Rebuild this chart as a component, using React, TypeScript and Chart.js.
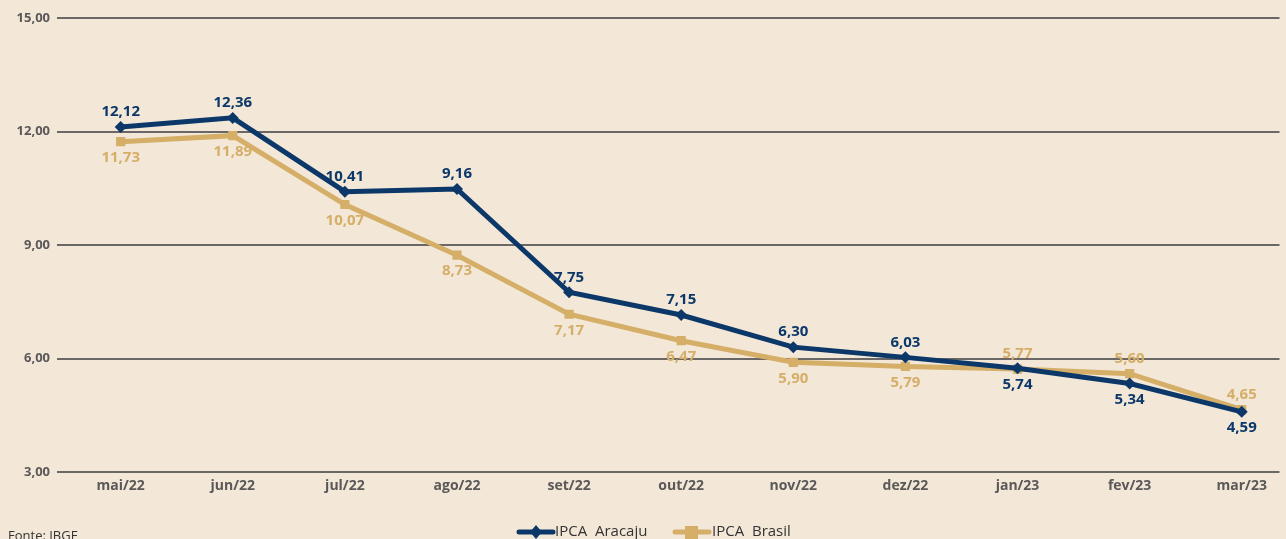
import React, { useEffect, useRef } from "react";
import { Chart, registerables } from "chart.js";

Chart.register(...registerables);

const categories = ["mai/22", "jun/22", "jul/22", "ago/22", "set/22", "out/22", "nov/22", "dez/22", "jan/23", "fev/23", "mar/23"];
// plotted positions
const aracajuValues = [12.12, 12.36, 10.41, 10.48, 7.75, 7.15, 6.3, 6.03, 5.74, 5.34, 4.59];
const brasilValues = [11.73, 11.89, 10.07, 8.73, 7.17, 6.47, 5.9, 5.79, 5.72, 5.6, 4.65];
// printed data labels
const aracajuLabels = [12.12, 12.36, 10.41, 9.16, 7.75, 7.15, 6.3, 6.03, 5.74, 5.34, 4.59];
const brasilLabels = [11.73, 11.89, 10.07, 8.73, 7.17, 6.47, 5.9, 5.79, 5.77, 5.6, 4.65];
const yTicks = [3, 6, 9, 12, 15];

const BG = "#F3E7D8";
const NAVY = "#0B3868";
const GOLD = "#D5AE68";
const GRID = "#6A6767";
const TEXT = "#5A5858";
const FONT = "'Open Sans', 'Noto Sans', sans-serif";

const fmt = (v: number) => v.toFixed(2).replace(".", ",");

export default function App() {
  const ref = useRef<HTMLCanvasElement | null>(null);
  useEffect(() => {
    document.body.style.margin = "0";
    document.body.style.background = BG;
    const canvas = ref.current!;
    const bgPlugin = {
      id: "bg",
      beforeDraw(chart: any) {
        const { ctx, width, height } = chart;
        ctx.save();
        ctx.fillStyle = BG;
        ctx.fillRect(0, 0, width, height);
        ctx.restore();
      },
    };
    const labelPlugin = {
      id: "labels",
      afterDatasetsDraw(chart: any) {
        const ctx = chart.ctx;
        ctx.save();
        ctx.font = `bold 15px ${FONT}`;
        ctx.textAlign = "center";
        ctx.textBaseline = "middle";
        const sets = [
          { idx: 1, labels: brasilLabels, other: aracajuLabels, color: GOLD },
          { idx: 0, labels: aracajuLabels, other: brasilLabels, color: NAVY },
        ];
        sets.forEach((s) => {
          const meta = chart.getDatasetMeta(s.idx);
          meta.data.forEach((pt: any, i: number) => {
            const above = s.labels[i] > s.other[i];
            ctx.fillStyle = s.color;
            ctx.fillText(fmt(s.labels[i]), pt.x, above ? pt.y - 15 : pt.y + 16);
          });
        });
        ctx.restore();
      },
      afterDraw(chart: any) {
        const ctx = chart.ctx;
        ctx.save();
        const ly = 532;
        ctx.strokeStyle = NAVY;
        ctx.lineWidth = 5;
        ctx.lineCap = "round";
        ctx.beginPath();
        ctx.moveTo(519, ly);
        ctx.lineTo(553, ly);
        ctx.stroke();
        ctx.fillStyle = NAVY;
        ctx.beginPath();
        ctx.moveTo(536, ly - 7);
        ctx.lineTo(542, ly);
        ctx.lineTo(536, ly + 7);
        ctx.lineTo(530, ly);
        ctx.closePath();
        ctx.fill();
        ctx.strokeStyle = GOLD;
        ctx.beginPath();
        ctx.moveTo(675, ly);
        ctx.lineTo(709, ly);
        ctx.stroke();
        ctx.fillStyle = GOLD;
        ctx.fillRect(685, ly - 6, 13, 13);
        ctx.font = `15px ${FONT}`;
        ctx.fillStyle = "#333333";
        ctx.textAlign = "left";
        ctx.textBaseline = "middle";
        ctx.fillText("IPCA  Aracaju", 555, ly);
        ctx.fillText("IPCA  Brasil", 712, ly);
        ctx.font = `13px ${FONT}`;
        ctx.fillText("Fonte: IBGE", 8, 536);
        ctx.restore();
      },
    };
    const chart = new Chart(canvas, {
      type: "line",
      data: {
        datasets: [
          {
            label: "IPCA  Aracaju",
            data: aracajuValues.map((v, i) => ({ x: i, y: v })),
            borderColor: NAVY,
            backgroundColor: NAVY,
            borderWidth: 5,
            pointStyle: "rectRot",
            pointRadius: 6,
            pointBorderWidth: 0,
            tension: 0,
          },
          {
            label: "IPCA  Brasil",
            data: brasilValues.map((v, i) => ({ x: i, y: v })),
            borderColor: GOLD,
            backgroundColor: GOLD,
            borderWidth: 5,
            pointStyle: "rect",
            pointRadius: 6.5,
            pointBorderWidth: 0,
            tension: 0,
          },
        ],
      },
      options: {
        responsive: false,
        animation: false,
        layout: { padding: { top: 18, right: 0, left: 0, bottom: 0 } },
        plugins: { legend: { display: false }, tooltip: { enabled: false } },
        scales: {
          x: {
            type: "linear",
            min: -0.568,
            max: 10.337,
            grid: { display: false, drawTicks: false },
            border: { display: false },
            afterBuildTicks: (axis: any) => {
              axis.ticks = categories.map((_, i) => ({ value: i }));
            },
            afterFit: (scale: any) => {
              scale.height = 67;
            },
            ticks: {
              autoSkip: false,
              maxRotation: 0,
              padding: 6,
              color: TEXT,
              font: { family: FONT, size: 14, weight: "bold" },
              callback: (v: any) => categories[v] ?? "",
            },
          },
          y: {
            min: 3,
            max: 15,
            afterBuildTicks: (axis: any) => {
              axis.ticks = yTicks.map((v) => ({ value: v }));
            },
            afterFit: (scale: any) => {
              scale.width = 57;
            },
            grid: { color: GRID, lineWidth: 2, drawTicks: false },
            border: { display: false },
            ticks: {
              padding: 7,
              color: TEXT,
              font: { family: FONT, size: 13, weight: "bold" },
              callback: (v: any) => fmt(Number(v)),
            },
          },
        },
      },
      plugins: [bgPlugin, labelPlugin],
    } as any);
    return () => chart.destroy();
  }, []);
  return (
    <div style={{ position: "fixed", left: 0, top: 0, width: 1286, height: 539, background: BG }}>
      <canvas ref={ref} width={1286} height={539} style={{ width: 1286, height: 539, display: "block" }} />
    </div>
  );
}
